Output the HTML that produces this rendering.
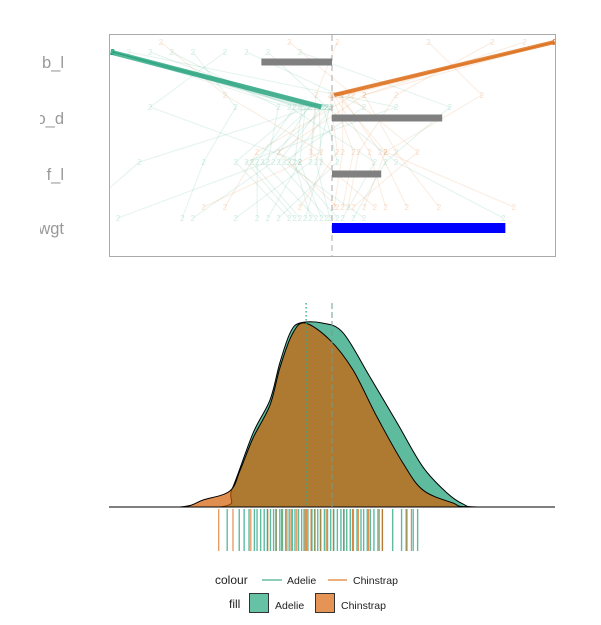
<!DOCTYPE html>
<html><head><meta charset="utf-8"><style>
body{margin:0;background:#fff;font-family:"Liberation Sans",sans-serif}
svg{display:block}
</style></head><body>
<svg width="601" height="625" viewBox="0 0 601 625">
<defs><clipPath id="lc"><rect x="40" y="0" width="70" height="260"/></clipPath>
<clipPath id="pc"><rect x="110" y="35" width="445" height="221"/></clipPath></defs>
<g id="topPanel"></g>
<g id="dens"></g>
<g id="legend"></g>
</svg>
<script>
// top panel data
const vars = ["b_l","b_d","f_l","wgt"];
const labels = ["b_l","o_d","f_l","wgt"];
const barStart = [-0.66, 0, 0, 0];
const barEnd = [0, 1.03, 0.46, 1.62];
const barColor = ["#808080","#808080","#808080","#0000ff"];
const adelieLines = [[-2.05,-0.2,-0.75,-0.3],[-2.05,-0.1,-0.5,-0.05],[-2.05,-0.25,-0.3,-0.6],[-2.05,-0.05,-0.65,-0.15],[-2.05,-0.15,-0.2,-0.9],[-2.05,-0.3,-0.9,-0.4],[-2.05,0,-0.4,0.05],[-2.05,-0.12,-0.1,-0.25],[-2.05,-0.22,-0.55,-1.3],[-2.05,-0.08,0.05,-0.5],[-1.7,-0.35,-0.7,-0.7],[-1.5,-0.5,-0.6,-2.0],[-1.3,-0.9,-1.2,-1.4],[-1.0,-1.7,-0.3,-0.1],[-0.8,0.3,-0.45,0.3],[-0.6,-0.05,0.6,1.6],[-1.9,0.6,-0.8,-0.35],[-2.05,-0.18,-1.8,-2.4],[-2.05,-0.4,0.4,0.1],[-0.3,1.1,0.5,0.2],[-2.05,-0.28,-0.35,-0.2],[-2.05,-0.02,-0.15,-0.02]];
const chinLines = [[2.08,0,0.2,0.1],[2.08,0.05,0.5,0.3],[2.08,0.1,0.1,0.02],[2.08,0.02,0.35,0.5],[2.08,0.15,0.8,0.2],[2.08,-0.02,0.05,-0.3],[1.8,0.3,0.6,1.0],[1.5,0.6,0.25,0.15],[0.05,-0.15,-0.2,0.4],[-1.6,-1.0,-0.1,-1.2],[2.08,0.3,-0.5,0.05],[0.9,1.4,0.5,1.7],[2.08,0.08,0.45,0.7],[-0.4,0.2,-0.7,-1.0]];
const adelieMain = [-2.07,-0.1];
const chinMain = [2.08,0.02];

// density data (x in 0..100 units, density 0..1)
const adelieX = [0,24.9,27.6,32.3,36.1,38.3,40.6,42.8,47.8,52.5,58.5,64.6,70.4,75.8,79.4,82.7,100];
const adelieD = [0,0,0.098,0.402,0.582,0.783,0.946,1,1,0.946,0.707,0.457,0.217,0.076,0.016,0,0];
const chinX = [0,15.9,21.1,27.1,29.4,32.3,36.1,38.3,41.0,43.9,49.5,54.7,60.1,65.9,70.4,77.1,80.9,100];
const chinD = [0,0,0.038,0.087,0.2,0.375,0.554,0.755,0.935,1,0.908,0.745,0.489,0.239,0.092,0.022,0,0];
const meanA = 50.0, meanC = 44.2;
const rugA = [26.5,29.2,30.3,31.4,32.6,33.2,34,34.8,35.5,36.2,36.9,37.5,38.3,38.9,39.6,40.4,41.1,41.7,42.5,43.2,44,44.6,45.5,46.1,46.8,47.4,48.3,49,49.7,50.4,51.2,52,52.7,53.3,54.1,54.8,55.6,56.5,57.1,57.9,58.6,59.4,60.3,61.3,63.6,65.6,66.8,68.2,69.2];
const rugC = [24.6,27.8,31.8,35.6,37.4,38.7,39.9,40.8,42.1,43.7,44.3,45.3,46.2,47.5,48.7,50.3,52.6,54.6,55.9,58.2,60.6,61.3,66.6,67.8];

const NS="http://www.w3.org/2000/svg";
function mk(p,t,a){const e=document.createElementNS(NS,t);for(const k in a)e.setAttribute(k,a[k]);p.appendChild(e);return e;}
const tx=v=>332+v*107, ty=i=>[62,118,174,228][i];
const gy=[52,107,162,218], oy=[42,95,152,207];
const topG=document.getElementById('topPanel');
const plot=mk(topG,'g',{'clip-path':'url(#pc)'});


function drawLine(r,ys,col,op,name){
 let l=mk(plot,'polyline',{points:r.map((v,i)=>tx(v)+','+ys[i]).join(' '),fill:'none',stroke:col,'stroke-opacity':op});
 
 
 r.forEach((v,i)=>{let t=mk(plot,'text',{x:tx(v),y:ys[i]+3,'font-size':8,fill:col,'fill-opacity':0.2,'text-anchor':'middle'});
  t.textContent='2';
  
  });
}
adelieLines.forEach(r=>drawLine(r,gy,'#1b9e77',0.12,'adelie-line'));
chinLines.forEach(r=>drawLine(r,oy,'#d95f02',0.12,'chinstrap-line'));
let am=mk(plot,'polyline',{points:adelieMain.map((v,i)=>tx(v)+','+gy[i]).join(' '),fill:'none',stroke:'#1b9e77','stroke-width':5,'stroke-opacity':0.75});


let cm=mk(plot,'polyline',{points:chinMain.map((v,i)=>tx(v)+','+oy[i]).join(' '),fill:'none',stroke:'#d95f02','stroke-width':4,'stroke-opacity':0.75});


let cl=mk(topG,'line',{x1:332,x2:332,y1:35,y2:256,stroke:'#aaa','stroke-dasharray':'6,4'});


const bh=[7,7,7,10];
vars.forEach((v,i)=>{
 let b=mk(topG,'rect',{x:tx(barStart[i]),y:ty(i)-bh[i]/2,width:tx(barEnd[i])-tx(barStart[i]),height:bh[i],fill:barColor[i]});
 
 
 let t=mk(topG,'text',{x:64,y:ty(i)+6,'text-anchor':'end','font-size':16.5,fill:'#999','clip-path':'url(#lc)'});
 t.textContent=labels[i];
 
 
});
let fr=mk(topG,'rect',{x:109.5,y:34.5,width:446,height:222,fill:'none',stroke:'#aaa'});


// density
const dx=v=>109+v*4.46, dy=d=>507-d*184;
const dg=document.getElementById('dens');
function smoothPath(P){
 let d='M'+P[0][0]+','+P[0][1];
 for(let i=0;i<P.length-1;i++){
  const p0=P[Math.max(i-1,0)],p1=P[i],p2=P[i+1],p3=P[Math.min(i+2,P.length-1)];
  const c1x=p1[0]+(p2[0]-p0[0])/6,c1y=p1[1]+(p2[1]-p0[1])/6;
  const c2x=p2[0]-(p3[0]-p1[0])/6,c2y=p2[1]-(p3[1]-p1[1])/6;
  d+=' C'+c1x+','+Math.min(c1y,507)+' '+c2x+','+Math.min(c2y,507)+' '+p2[0]+','+p2[1];
 }
 return d+' Z';
}
function area(xs,d,fill,op,name){
 let P=xs.map((x,i)=>[dx(x),dy(d[i])]);
 let p=mk(dg,'path',{d:smoothPath(P),fill:fill,'fill-opacity':op,stroke:'#000','stroke-width':1});
 
 
}
area(adelieX,adelieD,'#5fbb9e',1,'density-adelie');
area(chinX,chinD,'#d25c00',0.69,'density-chinstrap');
let ma=mk(dg,'line',{x1:dx(meanA),x2:dx(meanA),y1:303,y2:507,stroke:'#6a9f8e','stroke-dasharray':'6,3'});


let mc=mk(dg,'line',{x1:dx(meanC),x2:dx(meanC),y1:303,y2:507,stroke:'#2aa882','stroke-width':1.3,'stroke-dasharray':'1.5,2.5'});


rugA.forEach(v=>{let l=mk(dg,'line',{x1:dx(v),x2:dx(v),y1:509,y2:551,stroke:'#1b9e77','stroke-opacity':0.7,'stroke-width':1.4});

});
rugC.forEach(v=>{let l=mk(dg,'line',{x1:dx(v),x2:dx(v),y1:509,y2:551,stroke:'#d95f02','stroke-opacity':0.7,'stroke-width':1.2});

});

// legend
const lg=document.getElementById('legend');
function T(x,y,s,n){const e=document.createElementNS(NS,'text');e.setAttribute('x',x);e.setAttribute('y',y);e.setAttribute('font-size',s==='colour'||s==='fill'?12:10.5);e.setAttribute('fill','#222');e.textContent=s;


lg.appendChild(e);}
T(215,584,'colour','legend-colour-title');
let l1=mk(lg,'line',{x1:262,x2:282,y1:580,y2:580,stroke:'#1b9e77'});


T(287,584,'Adelie','legend-colour-adelie');
let l2=mk(lg,'line',{x1:328,x2:347,y1:580,y2:580,stroke:'#d95f02'});


T(353,584,'Chinstrap','legend-colour-chinstrap');
T(229,608,'fill','legend-fill-title');
let b1=mk(lg,'rect',{x:249.5,y:593.5,width:19,height:19,fill:'#66c2a5',stroke:'#333'});


T(275,609,'Adelie','legend-fill-adelie');
let b2=mk(lg,'rect',{x:315.5,y:593.5,width:19,height:19,fill:'#e69456',stroke:'#333'});


T(341,609,'Chinstrap','legend-fill-chinstrap');
</script>
</body></html>
